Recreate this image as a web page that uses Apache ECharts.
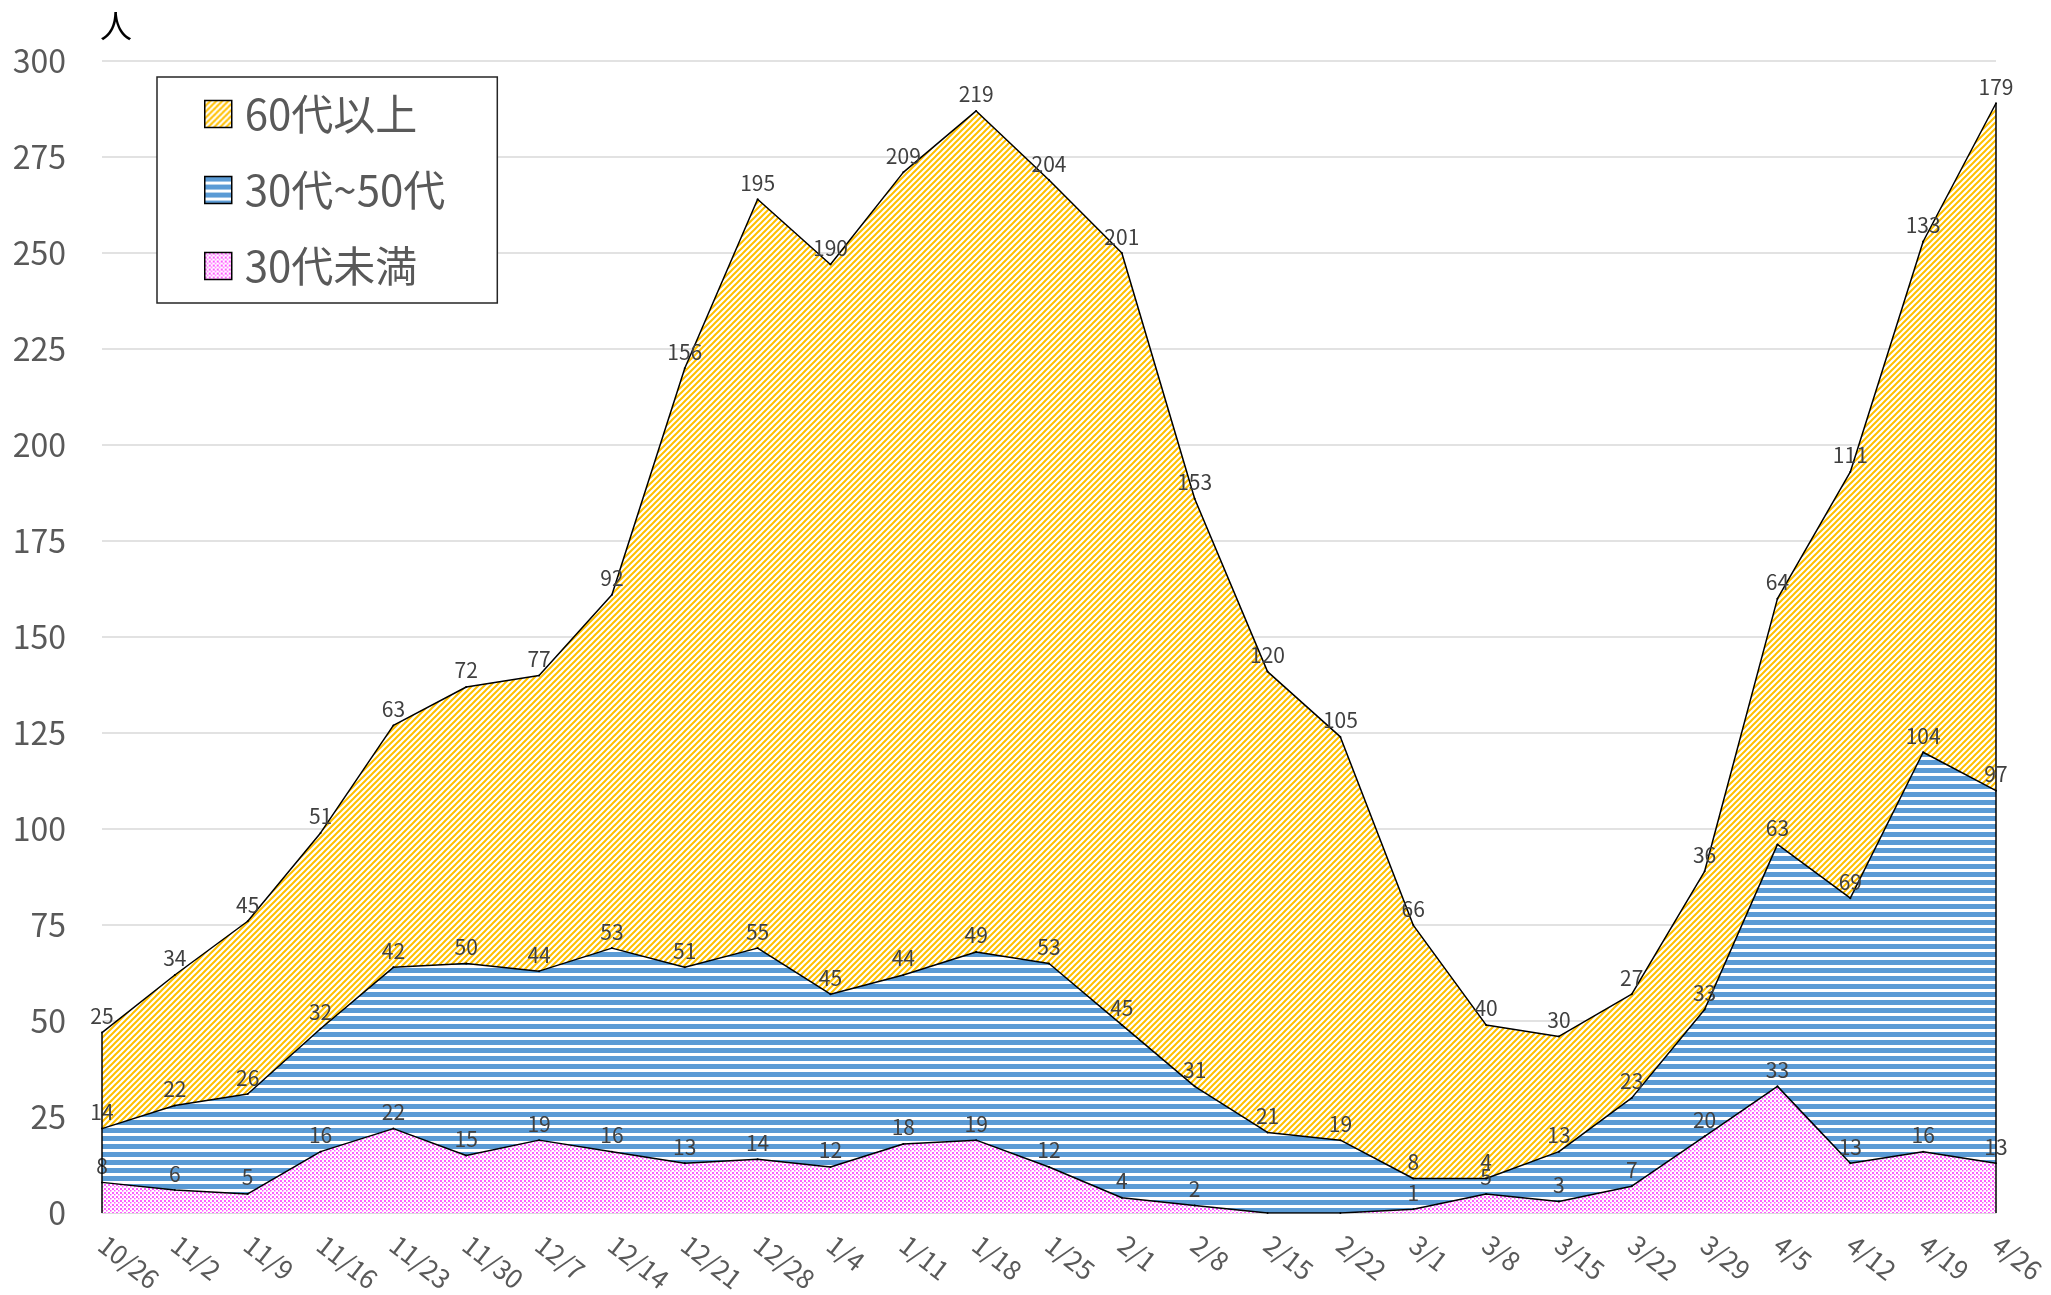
<!DOCTYPE html>
<html lang="ja">
<head>
<meta charset="utf-8">
<title>年代別 陽性者数</title>
<script src="https://cdn.jsdelivr.net/npm/echarts@6/dist/echarts.min.js"></script>
<style>
  html, body { margin: 0; padding: 0; background: #fff; }
  #chart { width: 2051px; height: 1295px; }
</style>
</head>
<body>
<div id="chart"></div>
<script>
// 横軸（週）
const weeks = ['10/26', '11/2', '11/9', '11/16', '11/23', '11/30', '12/7', '12/14', '12/21', '12/28',
  '1/4', '1/11', '1/18', '1/25', '2/1', '2/8', '2/15', '2/22', '3/1', '3/8', '3/15', '3/22',
  '3/29', '4/5', '4/12', '4/19', '4/26']

// 年代別の人数
const under30 = [8, 6, 5, 16, 22, 15, 19, 16, 13, 14, 12, 18, 19, 12, 4, 2, 0, 0, 1, 5, 3, 7, 20, 33, 13, 16, 13]
const age30to50 = [14, 22, 26, 32, 42, 50, 44, 53, 51, 55, 45, 44, 49, 53, 45, 31, 21, 19, 8, 4, 13, 23, 33, 63, 69, 104, 97]
const over60 = [25, 34, 45, 51, 63, 72, 77, 92, 156, 195, 190, 209, 219, 204, 201, 153, 120, 105, 66, 40, 30, 27, 36, 64, 111, 133, 179]

// 縦軸
const yMin = 0
const yMax = 300
const yStep = 25

const FONT = '"Noto Sans CJK JP", "Noto Sans", sans-serif'

// 塗りパターン
const makePattern = (w, h, draw) => {
  const c = document.createElement('canvas')
  c.width = w
  c.height = h
  const ctx = c.getContext('2d')
  ctx.fillStyle = '#fff'
  ctx.fillRect(0, 0, w, h)
  draw(ctx)
  return { image: c, repeat: 'repeat' }
}

// 60代以上：斜線
const hatchYellow = makePattern(6, 6, ctx => {
  ctx.strokeStyle = '#FFC000'
  ctx.lineWidth = 2
  ctx.beginPath()
  ctx.moveTo(-1, 7); ctx.lineTo(7, -1)
  ctx.moveTo(-1, 1); ctx.lineTo(1, -1)
  ctx.moveTo(5, 7); ctx.lineTo(7, 5)
  ctx.stroke()
})

// 30代~50代：横縞
const stripeBlue = makePattern(8, 8, ctx => {
  ctx.fillStyle = '#5B9BD5'
  ctx.fillRect(0, 0, 8, 5)
})

// 30代未満：ドット
const dotPink = makePattern(4, 4, ctx => {
  ctx.fillStyle = '#FF5CFF'
  ctx.fillRect(0, 0, 2, 2)
  ctx.fillRect(2, 2, 1.5, 1.5)
})

const totals = weeks.map((w, i) => under30[i] + age30to50[i] + over60[i])
const last = weeks.length - 1

const makeSeries = (name, data, fill, extra) => Object.assign({
  name,
  type: 'line',
  stack: 'total',
  data,
  symbol: 'circle',
  symbolSize: 2,
  itemStyle: { color: '#000' },
  lineStyle: { color: '#000', width: 1.5 },
  areaStyle: { color: fill, opacity: 1 },
  emphasis: { disabled: true },
  label: {
    show: true,
    position: 'top',
    distance: 5,
    fontSize: 21,
    color: '#404040',
    fontFamily: FONT,
    formatter: p => (p.value === 0 ? '' : String(p.value))
  },
  z: 2
}, extra || {})

const chart = echarts.init(document.getElementById('chart'))

const option = {
  backgroundColor: '#fff',
  animation: false,
  textStyle: { fontFamily: FONT },
  grid: { left: 102, right: 55, top: 61, bottom: 80 },
  legend: {
    orient: 'vertical',
    left: 157,
    top: 77,
    icon: 'rect',
    itemWidth: 27,
    itemHeight: 27,
    itemGap: 34,
    padding: [16, 52, 16, 47],
    borderColor: '#262626',
    borderWidth: 1.5,
    backgroundColor: '#fff',
    selectedMode: false,
    textStyle: { fontSize: 42, lineHeight: 42, color: '#595959', padding: [0, 0, 0, 8] },
    data: [
      { name: '60代以上', itemStyle: { color: hatchYellow, borderColor: '#000', borderWidth: 1.5 } },
      { name: '30代~50代', itemStyle: { color: stripeBlue, borderColor: '#000', borderWidth: 1.5 } },
      { name: '30代未満', itemStyle: { color: dotPink, borderColor: '#000', borderWidth: 1.5 } }
    ]
  },
  xAxis: {
    type: 'category',
    data: weeks,
    boundaryGap: false,
    axisLine: { lineStyle: { color: '#d9d9d9', width: 1.5 } },
    axisTick: { show: false },
    axisLabel: { rotate: -38, margin: 28, fontSize: 26, color: '#595959', interval: 0 }
  },
  yAxis: {
    type: 'value',
    min: yMin,
    max: yMax,
    interval: yStep,
    axisLine: { show: false },
    axisTick: { show: false },
    axisLabel: { margin: 36, fontSize: 32, color: '#595959' },
    splitLine: { lineStyle: { color: '#d9d9d9', width: 1.5 } }
  },
  graphic: [
    {
      type: 'text',
      left: 100,
      top: 10,
      style: { text: '人', fontSize: 32, fill: '#000', fontFamily: FONT }
    }
  ],
  series: [
    makeSeries('30代未満', under30, dotPink),
    makeSeries('30代~50代', age30to50, stripeBlue),
    makeSeries('60代以上', over60, hatchYellow, {
      // 両端の縦の枠線
      markLine: {
        silent: true,
        symbol: 'none',
        label: { show: false },
        lineStyle: { color: '#000', width: 1.5, type: 'solid' },
        data: [
          [{ coord: [weeks[0], 0] }, { coord: [weeks[0], totals[0]] }],
          [{ coord: [weeks[last], 0] }, { coord: [weeks[last], totals[last]] }]
        ]
      }
    })
  ]
}

chart.setOption(option)
</script>
</body>
</html>
